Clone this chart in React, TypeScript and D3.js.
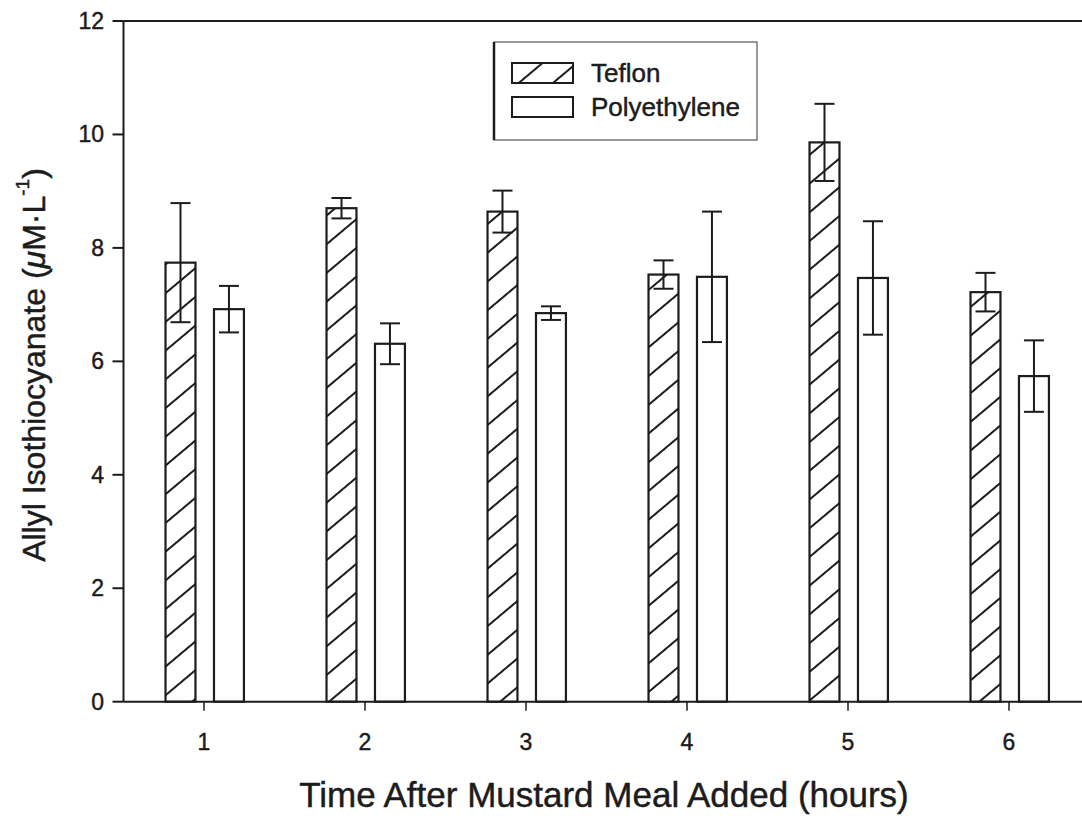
import React from "react";
import * as d3 from "d3";

// Hours after the mustard meal was added
const hours = [1, 2, 3, 4, 5, 6];
// Mean allyl isothiocyanate concentration (µM·L⁻¹) and standard error
const teflonMeans = [7.74, 8.7, 8.64, 7.53, 9.86, 7.22];
const teflonErrors = [1.05, 0.18, 0.37, 0.25, 0.68, 0.34];
const polyMeans = [6.92, 6.31, 6.85, 7.49, 7.47, 5.74];
const polyErrors = [0.41, 0.36, 0.12, 1.15, 1.0, 0.63];
const yTicks = [0, 2, 4, 6, 8, 10, 12];
const seriesNames = ["Teflon", "Polyethylene"];

const W = 1082;
const H = 816;
const FONT = "'Liberation Sans', Arial, sans-serif";
const INK = "#1c1c1c";

export default function App() {
  const x = d3.scaleLinear().domain([0.5, 6.5]).range([123.5, 1089.5]);
  const y = d3.scaleLinear().domain([0, 12]).range([701.7, 21]);

  // bar geometry in data units relative to each hour
  const barW = 0.186;
  const tefOffset = -0.239;
  const polyOffset = 0.062;

  const left = x(0.5);
  const bottom = y(0);
  const top = y(12);
  const capHalf = 10;

  const series = [
    { name: "Teflon", means: teflonMeans, errs: teflonErrors, off: tefOffset, fill: "url(#hatch)" },
    { name: "Polyethylene", means: polyMeans, errs: polyErrors, off: polyOffset, fill: "white" },
  ];

  const textInk = { fill: INK, stroke: INK, strokeWidth: 0.45 };

  return (
    <svg
      width={W}
      height={H}
      viewBox={`0 0 ${W} ${H}`}
      style={{ position: "absolute", left: 0, top: 0, background: "white" }}
      fontFamily={FONT}
    >
      <defs>
        <pattern
          id="hatch"
          patternUnits="userSpaceOnUse"
          width={12}
          height={22}
          patternTransform="rotate(-40)"
        >
          <rect width={12} height={22} fill="white" />
          <line x1={0} y1={1} x2={12} y2={1} stroke={INK} strokeWidth={2} />
        </pattern>
      </defs>

      {/* bars */}
      {series.map((s) =>
        hours.map((h, i) => {
          const x0 = x(h + s.off);
          const x1 = x(h + s.off + barW);
          return (
            <rect
              key={`${s.name}-${h}`}
              x={x0}
              y={y(s.means[i])}
              width={x1 - x0}
              height={bottom - y(s.means[i])}
              fill={s.fill}
              stroke={INK}
              strokeWidth={2.2}
            />
          );
        })
      )}

      {/* error bars */}
      {series.map((s) =>
        hours.map((h, i) => {
          const cx = x(h + s.off + barW / 2);
          const hi = y(s.means[i] + s.errs[i]);
          const lo = y(s.means[i] - s.errs[i]);
          return (
            <g key={`err-${s.name}-${h}`} stroke={INK} strokeWidth={2}>
              <line x1={cx} x2={cx} y1={hi} y2={lo} />
              <line x1={cx - capHalf} x2={cx + capHalf} y1={hi} y2={hi} />
              <line x1={cx - capHalf} x2={cx + capHalf} y1={lo} y2={lo} />
            </g>
          );
        })
      )}

      {/* frame */}
      <g stroke={INK} strokeWidth={2} fill="none">
        <line x1={left} x2={left} y1={top} y2={bottom} />
        <line x1={left} x2={x(6.5)} y1={top} y2={top} />
        <line x1={left} x2={x(6.5)} y1={bottom} y2={bottom} />
        <line x1={x(6.5)} x2={x(6.5)} y1={top} y2={bottom} />
      </g>

      {/* y axis ticks and labels */}
      {yTicks.map((t) => (
        <g key={`yt-${t}`}>
          <line x1={left - 11} x2={left} y1={y(t)} y2={y(t)} stroke={INK} strokeWidth={2} />
          <text
            x={104}
            y={y(t)}
            textAnchor="end"
            dominantBaseline="central"
            fontSize={23}
            {...textInk}
          >
            {t}
          </text>
        </g>
      ))}

      {/* x axis ticks and labels */}
      {hours.map((h) => (
        <g key={`xt-${h}`}>
          <line x1={x(h)} x2={x(h)} y1={bottom} y2={bottom + 9} stroke={INK} strokeWidth={1.5} />
          <text
            x={x(h)}
            y={742}
            textAnchor="middle"
            dominantBaseline="central"
            fontSize={23}
            {...textInk}
          >
            {h}
          </text>
        </g>
      ))}

      {/* axis titles */}
      <text
        x={604}
        y={794}
        textAnchor="middle"
        dominantBaseline="central"
        fontSize={35}
        {...textInk}
      >
        Time After Mustard Meal Added (hours)
      </text>
      <text
        transform={`translate(34, 365) rotate(-90)`}
        textAnchor="middle"
        dominantBaseline="central"
        fontSize={32}
        {...textInk}
      >
        Allyl Isothiocyanate (<tspan fontStyle="italic">μ</tspan>M·L
        <tspan dy={-12} fontSize={19}>-1</tspan>
        <tspan dy={12}>)</tspan>
      </text>

      {/* legend */}
      <g>
        <rect x={494} y={42} width={263} height={98} fill="white" stroke="#555" strokeWidth={1.2} />
        <line x1={494} x2={494} y1={42} y2={140} stroke={INK} strokeWidth={2.5} />
        {seriesNames.map((name, i) => (
          <g key={`lg-${name}`}>
            <rect
              x={512}
              y={63 + i * 34}
              width={61}
              height={20}
              fill={i === 0 ? "url(#hatch)" : "white"}
              stroke={INK}
              strokeWidth={2}
            />
            <text
              x={591}
              y={73 + i * 34}
              dominantBaseline="central"
              fontSize={26}
              {...textInk}
            >
              {name}
            </text>
          </g>
        ))}
      </g>
    </svg>
  );
}
